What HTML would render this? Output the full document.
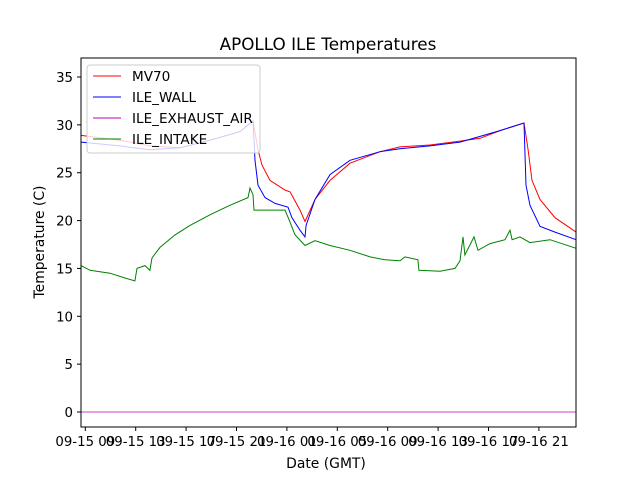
<!DOCTYPE html>
<html><head><meta charset="utf-8"><style>
body{margin:0;background:#fff;}
svg{display:block;font-family:"DejaVu Sans","Liberation Sans",sans-serif;}
</style></head><body>
<svg id="chart" width="640" height="480">
<rect width="640" height="480" fill="#fff"/>
<text x="328" y="50" text-anchor="middle" font-size="16.8">APOLLO ILE Temperatures</text>
<g id="series"></g>
<g id="axes"></g>
<rect x="81" y="58" width="495" height="369" fill="none" stroke="#000" stroke-width="1"/>
<text x="326" y="468" text-anchor="middle" font-size="13.9">Date (GMT)</text>
<text transform="translate(44,242) rotate(-90)" text-anchor="middle" font-size="13.9">Temperature (C)</text>
<g id="legend">
<rect x="87" y="65" width="173" height="88" rx="3" fill="#fff" fill-opacity="0.8" stroke="#ccc"/>
</g>
</svg>
<script>
// hours since 09-15 09:00 GMT
const mvT=[-0.34,2.75,5.13,7.52,9.90,12.28,13.31,13.71,14.02,14.66,15.85,16.25,17.04,17.44,18.23,19.42,21.01,23.39,24.98,27.36,29.74,31.33,32.91,34.82,35.14,35.45,36.09,37.28,38.95];
const mvV=[28.9,28.4,27.8,27.6,28.4,29.3,30.4,27.4,25.8,24.2,23.2,23.0,21.1,19.9,22.2,24.2,26.0,27.2,27.7,27.9,28.3,28.6,29.4,30.2,27.4,24.2,22.2,20.3,18.8];
const wallT=[-0.34,2.75,5.13,7.52,9.90,12.28,13.31,13.47,13.71,14.26,15.06,16.09,16.40,17.04,17.44,17.52,18.23,19.42,21.01,23.39,24.98,27.36,29.74,31.33,32.91,34.82,34.98,35.29,36.09,37.28,38.95];
const wallV=[28.2,27.8,27.4,27.6,28.4,29.3,30.4,26.3,23.7,22.4,21.8,21.4,20.3,19.0,18.3,19.5,22.2,24.8,26.3,27.2,27.5,27.8,28.2,28.8,29.4,30.2,23.7,21.6,19.4,18.8,18.0];
const intakeT=[-0.34,0.37,1.96,3.15,3.94,4.10,4.74,5.13,5.29,5.93,7.12,8.31,9.90,11.48,12.91,13.07,13.31,13.39,14.66,15.85,16.17,16.64,17.44,18.23,19.42,21.01,22.60,23.79,24.98,25.37,26.40,26.48,28.15,29.34,29.74,29.98,30.13,30.85,31.17,32.12,33.31,33.71,33.87,34.50,35.29,36.88,38.95];
const intakeV=[15.3,14.8,14.5,14.0,13.7,15.0,15.3,14.8,16.1,17.2,18.5,19.5,20.6,21.6,22.4,23.4,22.7,21.1,21.1,21.1,20.1,18.5,17.4,17.9,17.4,16.9,16.2,15.9,15.8,16.2,15.9,14.8,14.7,15.0,15.8,18.3,16.4,18.3,16.9,17.6,18.0,19.0,18.0,18.3,17.7,18.0,17.1];
const exhaustT=[-0.34,38.95];
const exhaustV=[0,0];
const yTicks=[0,5,10,15,20,25,30,35];
const xTickHours=[0,4,8,12,16,20,24,28,32,36];
const xTickLabels=["09-15 09","09-15 13","09-15 17","09-15 21","09-16 01","09-16 05","09-16 09","09-16 13","09-16 17","09-16 21"];
const legendNames=["MV70","ILE_WALL","ILE_EXHAUST_AIR","ILE_INTAKE"];
const legendColors=["#ff0000","#0000ff","#bf00bf","#008000"];

const NS="http://www.w3.org/2000/svg";
const X=h=>85.3+h*12.6;
const Y=v=>412-v*9.571;
const sg=document.getElementById('series');
function line(ts,vs,color,name,w){
  const p=document.createElementNS(NS,'polyline');
  p.setAttribute('points',ts.map((t,i)=>X(t).toFixed(1)+','+Y(vs[i]).toFixed(1)).join(' '));
  p.setAttribute('fill','none');p.setAttribute('stroke',color);p.setAttribute('stroke-width',w);
  
  
  sg.appendChild(p);
}
line(intakeT,intakeV,'#008000','ile-intake-line','1');
line(mvT,mvV,'#ff0000','mv70-line','1');
line(wallT,wallV,'#0000ff','ile-wall-line','1');
line(exhaustT,exhaustV,'#bf00bf','ile-exhaust-air-line','0.7');

const ax=document.getElementById('axes');
yTicks.forEach(v=>{
  const l=document.createElementNS(NS,'line');
  l.setAttribute('x1',77);l.setAttribute('x2',81);l.setAttribute('y1',Y(v));l.setAttribute('y2',Y(v));l.setAttribute('stroke','#000');
  
  
  ax.appendChild(l);
  const t=document.createElementNS(NS,'text');
  t.setAttribute('x',73);t.setAttribute('y',Y(v)+5);t.setAttribute('text-anchor','end');t.setAttribute('font-size','13.3');
  t.textContent=v;
  
  
  ax.appendChild(t);
});
xTickHours.forEach((h,i)=>{
  const l=document.createElementNS(NS,'line');
  l.setAttribute('x1',X(h));l.setAttribute('x2',X(h));l.setAttribute('y1',427);l.setAttribute('y2',431);l.setAttribute('stroke','#000');
  
  
  ax.appendChild(l);
  const t=document.createElementNS(NS,'text');
  t.setAttribute('x',X(h));t.setAttribute('y',446);t.setAttribute('text-anchor','middle');t.setAttribute('font-size','13.3');
  t.textContent=xTickLabels[i];
  
  
  ax.appendChild(t);
});
const lg=document.getElementById('legend');
legendNames.forEach((n,i)=>{
  const y=76+i*21;
  const l=document.createElementNS(NS,'line');
  l.setAttribute('x1',93);l.setAttribute('x2',121);l.setAttribute('y1',y);l.setAttribute('y2',y);l.setAttribute('stroke',legendColors[i]);
  
  
  lg.appendChild(l);
  const t=document.createElementNS(NS,'text');
  t.setAttribute('x',132);t.setAttribute('y',y+5);t.setAttribute('font-size','13.6');
  t.textContent=n;
  
  
  lg.appendChild(t);
});
</script>
</body></html>
